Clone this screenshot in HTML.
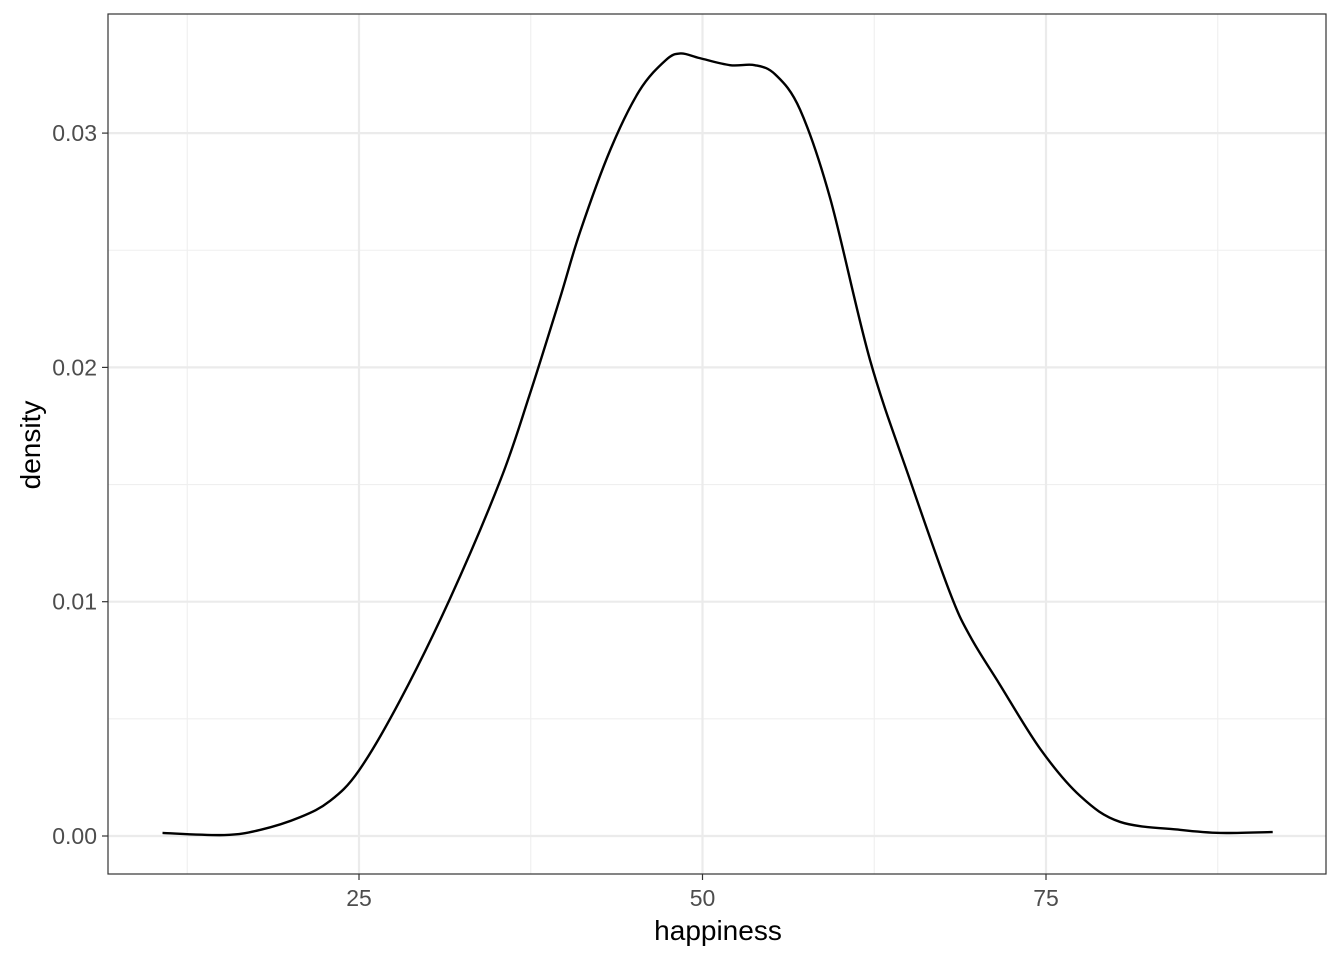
<!DOCTYPE html>
<html><head><meta charset="utf-8"><style>
html,body{margin:0;padding:0;background:#fff;}
svg{display:block;font-family:"Liberation Sans",Arial,sans-serif;}
</style></head><body>
<svg id="chart" width="1344" height="960">
<rect x="108" y="14" width="1218" height="860" fill="#fff"/>
<g id="grid"></g>
<path id="curve" fill="none" stroke="#000" stroke-width="2.4"/>
<rect x="108" y="14" width="1218" height="860" fill="none" stroke="#333" stroke-width="1.2"/>
<g id="axes"></g>
<text x="718" y="940" text-anchor="middle" font-size="28" fill="#000">happiness</text>
<text transform="translate(40,445) rotate(-90)" text-anchor="middle" font-size="28" fill="#000">density</text>
</svg>
<script>
const xs = [10.7,15.2,17.8,20.7,22.9,25,28,31.6,35.3,37.4,39.6,41.1,43.3,45.4,47.3,48.4,49.8,52,53.8,55.3,57.1,59.3,62.2,65.1,68,69.5,71.6,74.6,77.5,80.4,84.8,87.7,91.5];
const ys = [0.00013,0.00004,0.00026,0.0008,0.0015,0.0028,0.0058,0.0101,0.0152,0.0188,0.0229,0.0258,0.0293,0.0318,0.0331,0.0334,0.0332,0.0329,0.0329,0.0325,0.031,0.0272,0.0203,0.0152,0.0104,0.0085,0.0065,0.0037,0.0017,0.0006,0.00026,0.00013,0.00017];
const xTicks = [25,50,75];
const xMinor = [12.5,37.5,62.5,87.5];
const yTicks = [0,0.01,0.02,0.03];
const yTickLabels = ["0.00","0.01","0.02","0.03"];
const yMinor = [0.005,0.015,0.025];

const X = v => 15.5 + v*13.74;
const Y = v => 836 - v*23430;
const ns = "http://www.w3.org/2000/svg";
const grid = document.getElementById('grid'), axes = document.getElementById('axes');
function line(p,x1,y1,x2,y2,c,w,name){const l=document.createElementNS(ns,'line');
l.setAttribute('x1',x1);l.setAttribute('y1',y1);l.setAttribute('x2',x2);l.setAttribute('y2',y2);
l.setAttribute('stroke',c);l.setAttribute('stroke-width',w);


p.appendChild(l);}
function text(p,x,y,s,anchor,name){const t=document.createElementNS(ns,'text');
t.setAttribute('x',x);t.setAttribute('y',y);t.setAttribute('text-anchor',anchor);t.setAttribute('font-size','23');t.setAttribute('fill','#4d4d4d');t.textContent=s;


p.appendChild(t);}
xMinor.forEach(v=>line(grid,X(v),14,X(v),874,'#efefef',1.1,'x-minor-gridline'));
yMinor.forEach(v=>line(grid,108,Y(v),1326,Y(v),'#efefef',1.1,'y-minor-gridline'));
xTicks.forEach(v=>{line(grid,X(v),14,X(v),874,'#ebebeb',2.2,'x-major-gridline');
 line(axes,X(v),874,X(v),880,'#333',1.2,'x-tick');text(axes,X(v),906,String(v),'middle','x-tick-label');});
yTicks.forEach((v,i)=>{line(grid,108,Y(v),1326,Y(v),'#ebebeb',2.2,'y-major-gridline');
 line(axes,102,Y(v),108,Y(v),'#333',1.2,'y-tick');text(axes,97,Y(v)+8,yTickLabels[i],'end','y-tick-label');});
const P = xs.map((x,i)=>[X(x),Y(ys[i])]);
let d = 'M'+P[0][0]+','+P[0][1];
for(let i=0;i<P.length-1;i++){const p0=P[Math.max(0,i-1)],p1=P[i],p2=P[i+1],p3=P[Math.min(P.length-1,i+2)];
 const c1=[p1[0]+(p2[0]-p0[0])/6,p1[1]+(p2[1]-p0[1])/6],c2=[p2[0]-(p3[0]-p1[0])/6,p2[1]-(p3[1]-p1[1])/6];
 d+=` C${c1[0]},${c1[1]} ${c2[0]},${c2[1]} ${p2[0]},${p2[1]}`;}
document.getElementById('curve').setAttribute('d',d);
</script>
</body></html>
